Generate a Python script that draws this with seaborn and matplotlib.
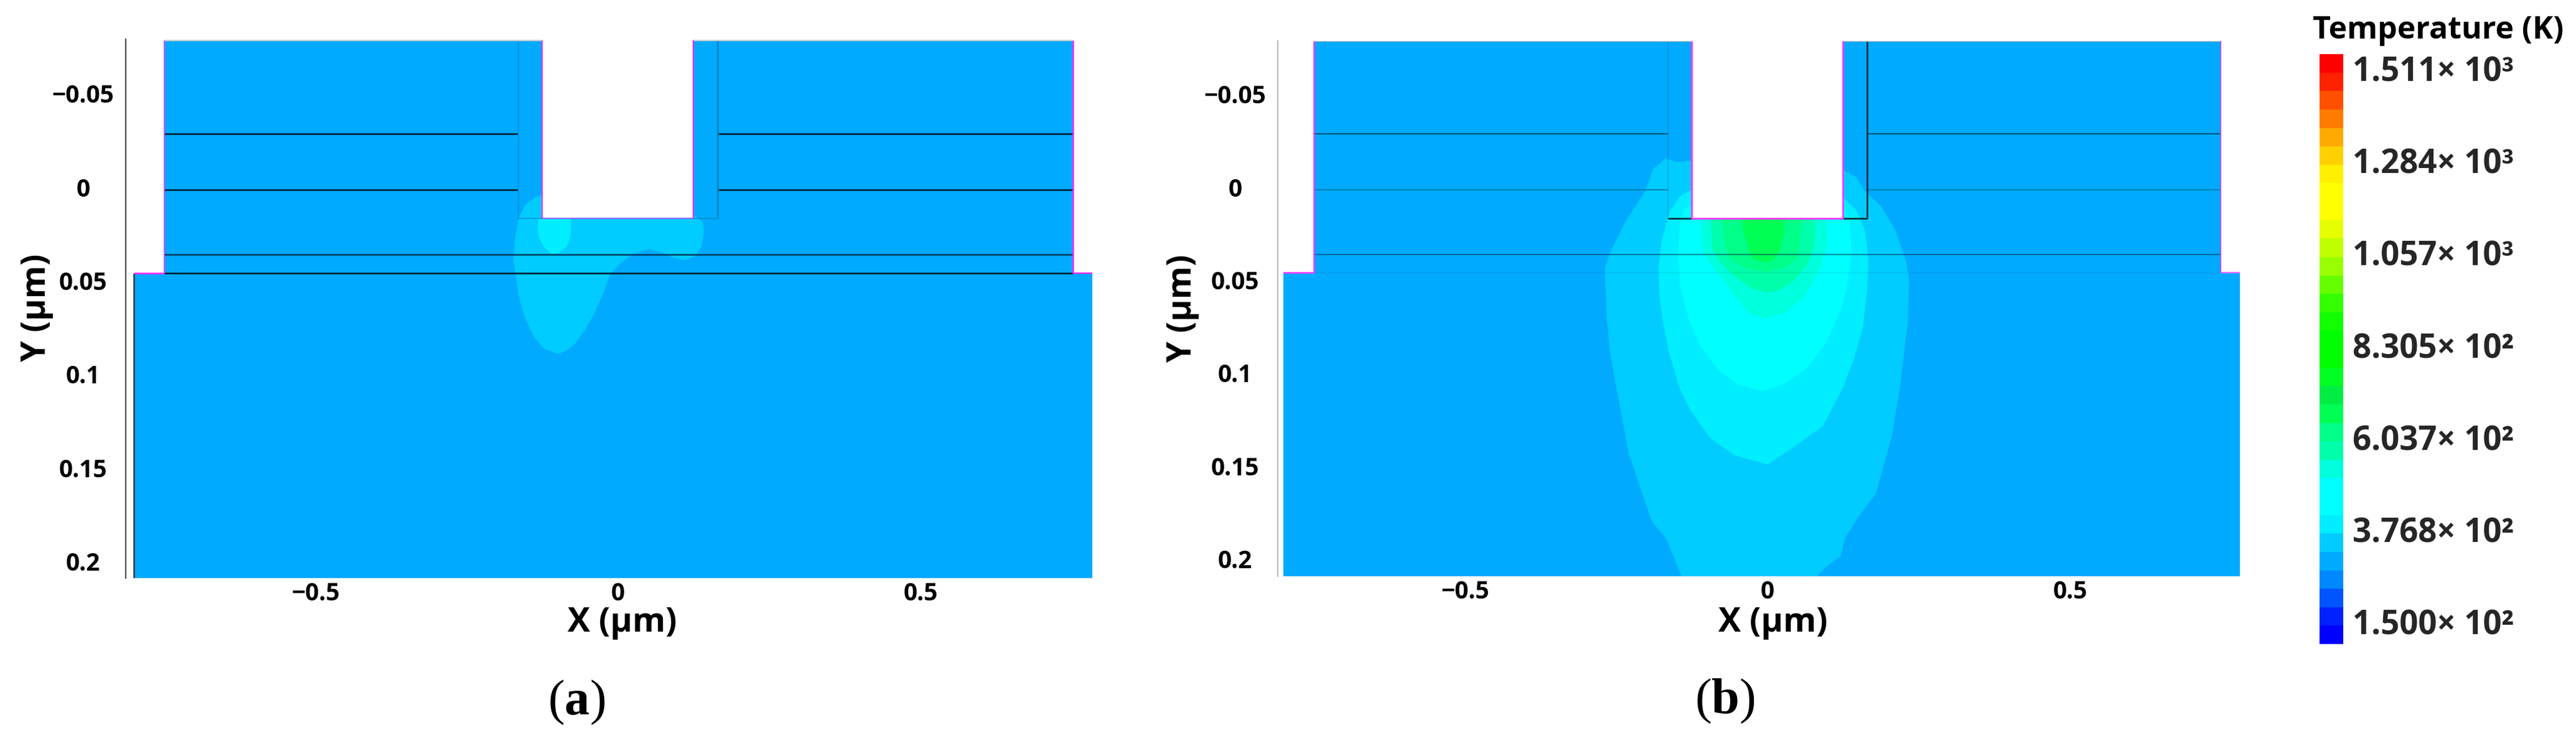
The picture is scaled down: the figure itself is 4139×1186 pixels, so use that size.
import matplotlib
matplotlib.use("Agg")
import matplotlib.pyplot as plt
from matplotlib.colors import ListedColormap, BoundaryNorm
import numpy as np
import pandas as pd
import seaborn as sns

# ---------- data ----------
level_values = [150 + 45.37 * i for i in range(31)]
band_colors = ["#0000ff", "#0022ff", "#0055ff", "#0088ff", "#00aaff", "#00ccff", "#00eeff", "#00ffff",
               "#00ffff", "#00ffdd", "#00ffaa", "#00ff88", "#00ff55", "#00ee44", "#00ff22", "#00ff00",
               "#00ff00", "#11ff00", "#33ff00", "#66ff00", "#99ff00", "#c0ff00", "#e5ff00", "#ffff00",
               "#ffff00", "#fff000", "#ffd000", "#ffaa00", "#ff7c00", "#ff5000", "#ff2200", "#ff0000"]
cbar_labels = ["1.511× 10³", "1.284× 10³", "1.057× 10³", "8.305× 10²",
               "6.037× 10²", "3.768× 10²", "1.500× 10²"]
x_ticks = [-0.5, 0, 0.5]
x_ticklabels = ["−0.5", "0", "0.5"]
y_ticks = [-0.05, 0, 0.05, 0.1, 0.15, 0.2]
y_ticklabels = ["−0.05", "0", "0.05", "0.1", "0.15", "0.2"]
ambient_T = 300

# isotherms of panel (a)
a_T = [355, 400]
a_355_x = [-0.0997, -0.123, -0.140, -0.154, -0.164, -0.169, -0.173, -0.171, -0.164, -0.154, -0.137, -0.125,
           0.127, 0.140, 0.142, 0.138, 0.127, 0.110, 0.0896, 0.0725, 0.0519, 0.0244, 0.0038, -0.0133,
           -0.0236, -0.0407, -0.0545, -0.0716, -0.085]
a_355_y = [0.0877, 0.0848, 0.0781, 0.0681, 0.0571, 0.0460, 0.0382, 0.0272, 0.0150, 0.0083, 0.0039, 0.0028,
           0.0139, 0.0172, 0.0227, 0.0305, 0.0355, 0.0377, 0.0360, 0.0336, 0.0316, 0.0344, 0.0393, 0.0454,
           0.0548, 0.0670, 0.0748, 0.0825, 0.0859]
a_400_x = [-0.1093, -0.123, -0.131, -0.133, -0.131, -0.0778, -0.0778, -0.0836, -0.0973]
a_400_y = [0.0344, 0.0305, 0.0249, 0.0205, 0.0155, 0.0155, 0.0238, 0.0299, 0.0336]

# isotherms of panel (b)
b_T = [355, 400, 445, 535, 580, 625, 670]
b_355_x = [-0.142, -0.168, -0.191, -0.207, -0.230, -0.241, -0.253, -0.261, -0.266, -0.269, -0.261, -0.235,
           -0.202, -0.189, -0.168, -0.152, -0.125, 0.126, 0.147, 0.161, 0.188, 0.211, 0.229, 0.234,
           0.232, 0.220, 0.206, 0.179, 0.151, 0.128, 0.121, 0.101, 0.082]
b_355_y = [0.2077, 0.1874, 0.1785, 0.1635, 0.1411, 0.1217, 0.1008, 0.0858, 0.0679, 0.0425, 0.0343, 0.0171,
           0.0007, -0.0113, -0.0170, -0.0150, -0.0158, -0.0105, -0.0068, 0.0007, 0.0089, 0.0216, 0.0380, 0.0485,
           0.0709, 0.1037, 0.1321, 0.1635, 0.1755, 0.1874, 0.1971, 0.2016, 0.2077]
b_400_x = [-0.0004, -0.0555, -0.0945, -0.129, -0.147, -0.163, -0.173, -0.179, -0.180, -0.175, -0.161, -0.143,
           -0.125, 0.126, 0.147, 0.161, 0.167, 0.165, 0.158, 0.142, 0.124, 0.092, 0.041]
b_400_y = [0.1478, 0.1426, 0.1336, 0.1179, 0.1052, 0.0873, 0.0709, 0.0559, 0.0410, 0.0275, 0.0111, 0.0029,
           -0.0001, 0.0044, 0.0111, 0.0216, 0.0380, 0.0530, 0.0739, 0.0918, 0.1067, 0.1269, 0.1388]
b_445_x = [-0.0095, -0.051, -0.083, -0.111, -0.129, -0.143, -0.148, -0.145, -0.138, -0.125, 0.126, 0.135,
           0.139, 0.131, 0.119, 0.096, 0.064, 0.027]
b_445_y = [0.1082, 0.1045, 0.0963, 0.0843, 0.0709, 0.0544, 0.0380, 0.0186, 0.0104, 0.0081, 0.0104, 0.0149,
           0.0335, 0.0530, 0.0664, 0.0828, 0.0963, 0.1045]
b_535_x = [-0.0034, -0.031, -0.058, -0.086, -0.106, -0.111, 0.098, 0.098, 0.089, 0.062, 0.027]
b_535_y = [0.0692, 0.0664, 0.0553, 0.0430, 0.0341, 0.0151, 0.0151, 0.0296, 0.0407, 0.0575, 0.0664]
b_580_x = [0.0, -0.027, -0.055, -0.079, -0.091, -0.094, 0.079, 0.077, 0.065, 0.041, 0.017]
b_580_y = [0.0553, 0.0530, 0.0463, 0.0385, 0.0318, 0.0151, 0.0151, 0.0307, 0.0407, 0.0497, 0.0541]
b_625_x = [0.0, -0.034, -0.062, -0.070, -0.076, 0.057, 0.051, 0.031]
b_625_y = [0.0441, 0.0424, 0.0374, 0.0296, 0.0151, 0.0151, 0.0363, 0.0413]
b_670_x = [0.0, -0.024, -0.031, -0.041, -0.042, 0.029, 0.027, 0.020, 0.010]
b_670_y = [0.0391, 0.0374, 0.0318, 0.0207, 0.0151, 0.0151, 0.0240, 0.0329, 0.0374]

# device geometry (um)
y_top, y_step, y_trench, y_layer1, y_layer2, y_layer3 = -0.08, 0.0446, 0.0153, -0.03, 0.0, 0.0347
x_left_low, x_left_up, x_trench, x_spacer = -0.80, -0.75, 0.125, 0.165
a_right_up, a_right_low, b_right_up, b_right_low = 0.752, 0.784, 0.749, 0.781
a_ylim, b_ylim = (0.2075, -0.0805), (0.2078, -0.080)
a_xlim, b_xlim = (-0.8138, 0.784), (-0.8097, 0.781)

# ---------- style ----------
sns.set_theme(style="white")
plt.rcParams["font.family"] = ["Open Sans", "DejaVu Sans"]
plt.rcParams["mathtext.fontset"] = "custom"
plt.rcParams["mathtext.rm"] = "Liberation Serif"
plt.rcParams["mathtext.bf"] = "Liberation Serif:bold"

W, H = 4139, 1186
fig = plt.figure(figsize=(W / 100, H / 100), dpi=100, facecolor="white")


def axes_px(left, right, top, bottom):
    return fig.add_axes([left / W, 1 - bottom / H, (right - left) / W, (bottom - top) / H])


cmap = ListedColormap(band_colors)
norm = BoundaryNorm(level_values, ncolors=len(band_colors), extend="both")


def seg(ax, xs, ys, color, lw, alpha=1.0):
    sns.lineplot(x=xs, y=ys, ax=ax, color=color, linewidth=lw, alpha=alpha, estimator=None, sort=False,
                 legend=False, solid_capstyle="butt", zorder=5)


def panel(ax, xlim, ylim, right_up, right_low, isotherms):
    x_out = [x_left_low, x_left_low, x_left_up, x_left_up, right_up, right_up, right_low, right_low]
    y_out = [ylim[0], y_step, y_step, y_top, y_top, y_step, y_step, ylim[0]]
    ax.fill(x_out, y_out, color=cmap(norm(ambient_T)), lw=0, zorder=1)
    for T, xs, ys in isotherms:
        ax.fill(xs, ys, color=cmap(norm(T)), lw=0, zorder=2)
    ax.fill([-x_trench, -x_trench, x_trench, x_trench],
            [y_top - 0.002, y_trench, y_trench, y_top - 0.002], color="white", lw=0, zorder=3)
    ax.set_xlim(*xlim)
    ax.set_ylim(*ylim)
    ax.set_xticks(x_ticks, x_ticklabels)
    ax.set_yticks(y_ticks, y_ticklabels)
    ax.tick_params(axis="x", length=3.5, width=1, pad=1, labelsize=28, labelcolor="black", color="#777777")
    ax.tick_params(axis="y", length=3.5, width=1, pad=46, labelsize=28, labelcolor="black", color="#777777")
    for t in ax.get_yticklabels():
        t.set_ha("center")
        t.set_va("center")
    for t in ax.get_xticklabels() + ax.get_yticklabels():
        t.set_fontweight("bold")
    for s in ("top", "right", "bottom"):
        ax.spines[s].set_visible(False)
    ax.set_xlabel("X (μm)", fontsize=39, fontweight="bold", color="black")
    ax.set_ylabel("Y (μm)", fontsize=39, fontweight="bold", color="black")


# ---------- panel (a) ----------
ax_a = axes_px(202, 1755, 63, 929)
panel(ax_a, a_xlim, a_ylim, a_right_up, a_right_low,
      [(a_T[0], a_355_x, a_355_y), (a_T[1], a_400_x, a_400_y)])
ax_a.spines["left"].set_color("#555555")
ax_a.spines["left"].set_linewidth(1.7)
ax_a.xaxis.set_label_coords(0.514, -0.052)
ax_a.yaxis.set_label_coords(-0.0747, 0.502)
dark = "#00263f"
for y_l in (y_layer1, y_layer2):
    seg(ax_a, [x_left_up, -x_spacer], [y_l, y_l], dark, 2.0)
    seg(ax_a, [x_spacer, a_right_up], [y_l, y_l], dark, 2.0)
seg(ax_a, [x_left_up, a_right_up], [y_layer3, y_layer3], "#003a58", 1.8)
seg(ax_a, [x_left_up, a_right_up], [y_step, y_step], dark, 2.0)
seg(ax_a, [-x_spacer, -x_spacer], [y_top, y_trench], "#0096dc", 1.5)
seg(ax_a, [x_spacer, x_spacer], [y_top, y_trench], "#0080bb", 1.8)
seg(ax_a, [-x_spacer, -x_trench], [y_trench, y_trench], "#0096dc", 1.2)
seg(ax_a, [x_trench, x_spacer], [y_trench, y_trench], "#0090cc", 1.2)
seg(ax_a, [x_left_low, x_left_low], [a_ylim[0], y_step], "#333a40", 1.8)
seg(ax_a, [x_left_up, -x_trench], [y_top, y_top], "#d0d0d0", 1.6)
seg(ax_a, [x_trench, a_right_up], [y_top, y_top], "#d0d0d0", 1.6)
pink = "#ff22ff"
seg(ax_a, [x_left_low, x_left_up], [y_step, y_step], pink, 1.8)
seg(ax_a, [x_left_up, x_left_up], [y_step, y_top], pink, 1.1)
seg(ax_a, [-x_trench, -x_trench], [y_top, y_trench], pink, 1.4)
seg(ax_a, [x_trench, x_trench], [y_top, y_trench], pink, 1.6)
seg(ax_a, [-x_trench, x_trench], [y_trench, y_trench], "#8866ff", 1.6)
seg(ax_a, [a_right_up, a_right_up], [y_step, y_top], pink, 1.8)
seg(ax_a, [a_right_up, a_right_low], [y_step, y_step], pink, 1.6)

# ---------- panel (b) ----------
ax_b = axes_px(2053, 3599, 66, 926)
panel(ax_b, b_xlim, b_ylim, b_right_up, b_right_low,
      [(b_T[0], b_355_x, b_355_y), (b_T[1], b_400_x, b_400_y), (b_T[2], b_445_x, b_445_y),
       (b_T[3], b_535_x, b_535_y), (b_T[4], b_580_x, b_580_y), (b_T[5], b_625_x, b_625_y),
       (b_T[6], b_670_x, b_670_y)])
ax_b.spines["left"].set_color("#bbbbbb")
ax_b.spines["left"].set_linewidth(1.5)
ax_b.xaxis.set_label_coords(0.515, -0.056)
ax_b.yaxis.set_label_coords(-0.0812, 0.501)
seg(ax_b, [x_left_up, -x_spacer], [y_layer1, y_layer1], "#005070", 1.4)
seg(ax_b, [x_spacer, b_right_up], [y_layer1, y_layer1], "#005070", 1.4)
seg(ax_b, [x_left_up, -x_spacer], [y_layer2, y_layer2], "#0080ad", 1.4)
seg(ax_b, [x_spacer, b_right_up], [y_layer2, y_layer2], "#0080ad", 1.4)
seg(ax_b, [x_left_up, b_right_up], [y_layer3, y_layer3], "#003850", 1.5, alpha=0.55)
seg(ax_b, [x_left_up, b_right_up], [y_step, y_step], "#003850", 1.5, alpha=0.07)
seg(ax_b, [-x_spacer, -x_spacer], [y_top, y_trench], "#005070", 1.4, alpha=0.22)
seg(ax_b, [x_spacer, x_spacer], [y_top, y_trench], "#0a2030", 1.8)
seg(ax_b, [-x_spacer, -x_trench], [y_trench, y_trench], "#0a2030", 1.8)
seg(ax_b, [x_trench, x_spacer], [y_trench, y_trench], "#0a2030", 1.8)
seg(ax_b, [x_left_up, -x_trench], [y_top, y_top], "#bdbdbd", 1.6)
seg(ax_b, [x_trench, b_right_up], [y_top, y_top], "#bdbdbd", 1.6)
pink_b = "#ff33ff"
seg(ax_b, [x_left_low, x_left_up], [y_step, y_step], pink_b, 1.8)
seg(ax_b, [x_left_up, x_left_up], [y_step, y_top], pink_b, 1.8)
seg(ax_b, [-x_trench, -x_trench], [y_top, y_trench], pink_b, 2.0)
seg(ax_b, [x_trench, x_trench], [y_top, y_trench], pink_b, 2.0)
seg(ax_b, [-x_trench, x_trench], [y_trench, y_trench], pink_b, 2.0)
seg(ax_b, [b_right_up, b_right_up], [y_step, y_top], "#a855ff", 1.5)
seg(ax_b, [b_right_up, b_right_low], [y_step, y_step], "#ff66ff", 1.5)

# ---------- colour bar ----------
ax_c = axes_px(3727, 3765, 87, 1035)
band_index = np.arange(len(band_colors))[::-1].reshape(-1, 1)
sns.heatmap(pd.DataFrame(band_index), ax=ax_c, cmap=cmap, vmin=-0.5, vmax=len(band_colors) - 0.5,
            cbar=False, xticklabels=False, yticklabels=False)
ax_c.yaxis.tick_right()
ax_c.set_yticks(np.arange(1, 32, 5), cbar_labels, rotation=0)
ax_c.tick_params(axis="y", length=0, pad=11, labelsize=38, left=False, right=False)
for t in ax_c.get_yticklabels():
    t.set_fontweight("bold")
    t.set_va("center")
fig.text(3918 / W, 1 - 49 / H, "Temperature (K)", ha="center", va="center", fontsize=36, fontweight="bold", color="black")

# ---------- panel tags ----------
fig.text(926 / W, 1 - 1127 / H, r"$\mathrm{(}\mathbf{a}\mathrm{)}$", ha="center", va="center", fontsize=58, color="black")
fig.text(2771 / W, 1 - 1125 / H, r"$\mathrm{(}\mathbf{b}\mathrm{)}$", ha="center", va="center", fontsize=58, color="black")

fig.savefig("out.png", dpi=100, facecolor="white")
